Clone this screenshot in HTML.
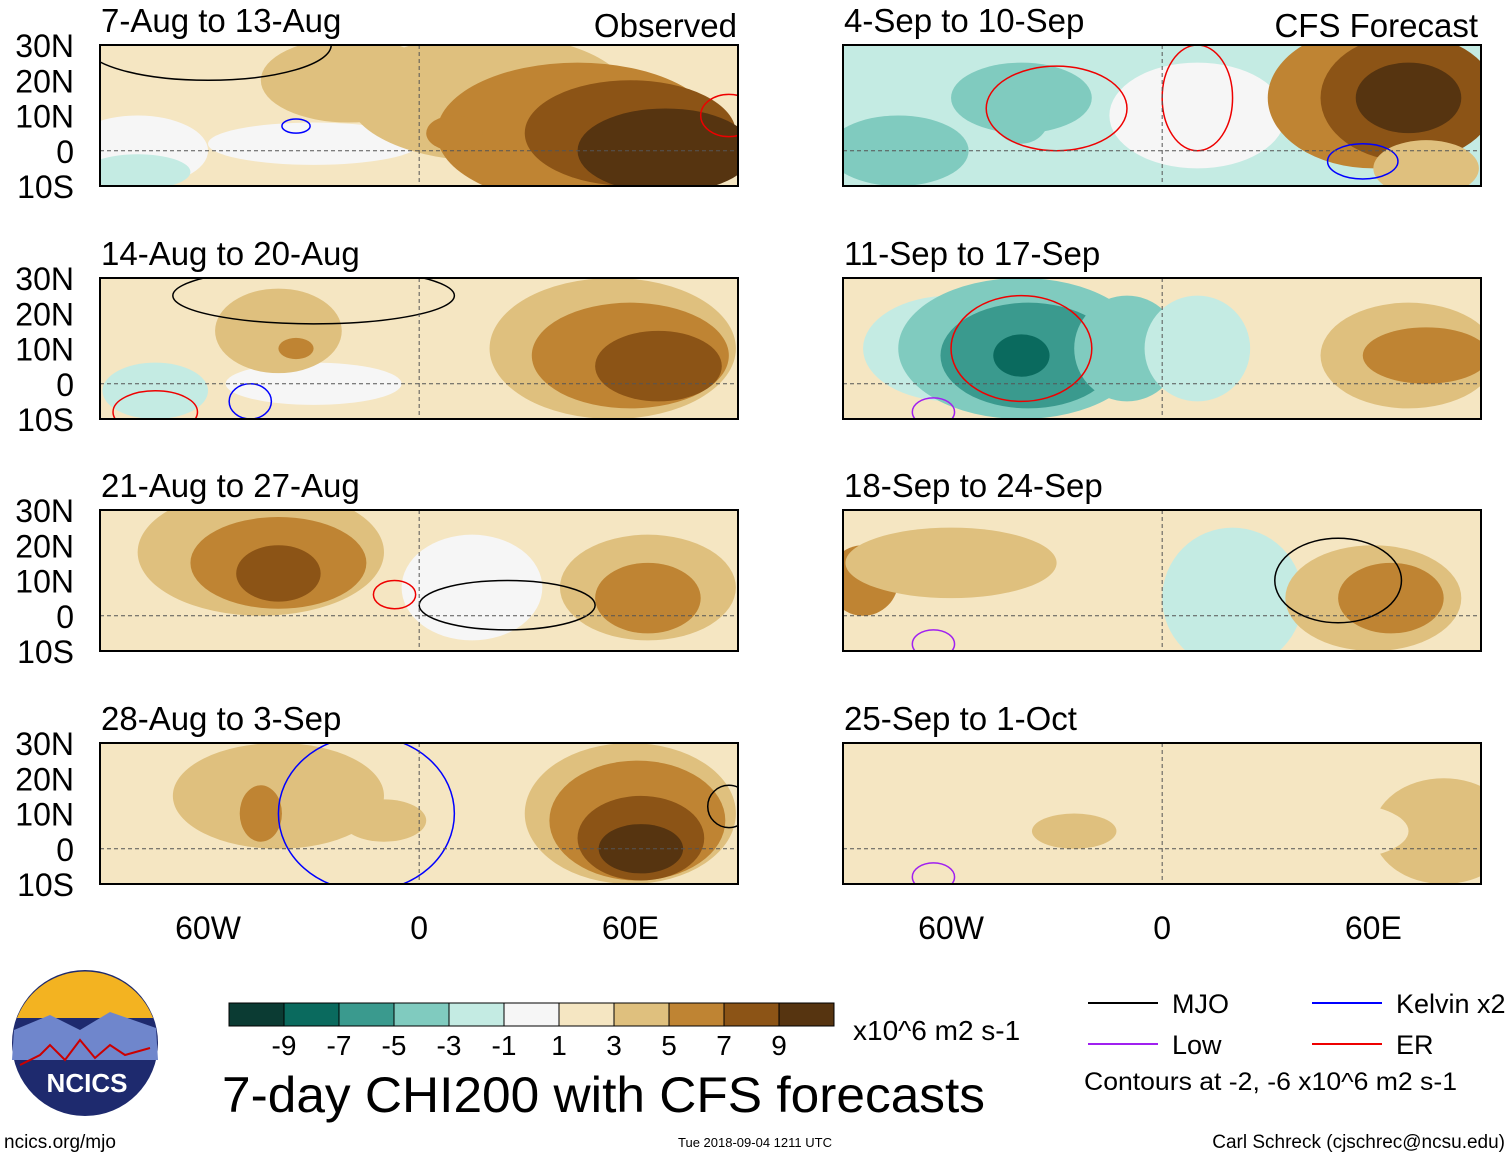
<!DOCTYPE html>
<html><head><meta charset="utf-8"><style>
body{margin:0;background:#fff;width:1510px;height:1158px;overflow:hidden;font-family:"Liberation Sans",sans-serif}
svg{position:absolute;left:0;top:0}
</style></head><body>
<svg id="fig" width="1510" height="1158" xmlns="http://www.w3.org/2000/svg" font-family="Liberation Sans, sans-serif"></svg>
<script>
const levelColors=["#0b3b33","#0a6a5e","#3a9a8e","#80cbbf","#c4ebe3","#f6f6f6","#f5e6c2","#dfc07e","#bf8433","#8c5416","#563410"];
const levelLabels=["-9","-7","-5","-3","-1","1","3","5","7","9"];
const panelTitles=["7-Aug to 13-Aug","14-Aug to 20-Aug","21-Aug to 27-Aug","28-Aug to 3-Sep","4-Sep to 10-Sep","11-Sep to 17-Sep","18-Sep to 24-Sep","25-Sep to 1-Oct"];
const panelBase=[6,6,6,6,4,6,6,6];
// blobs: [lon, lat, rlon, rlat, level]
const blobs0=[[-80,0,20,10,5],[-80,-6,15,5,4],[-30,2,30,6,5],[-20,20,25,12,7],[20,15,40,18,7],[45,5,40,20,8],[60,5,30,15,9],[70,0,25,12,10],[10,5,8,5,8]];
const blobs1=[[-75,-2,15,8,4],[-30,0,25,6,5],[-40,15,18,12,7],[-35,10,5,3,8],[55,10,35,20,7],[60,8,28,15,8],[68,5,18,10,9]];
const blobs2=[[-45,18,35,18,7],[-40,15,25,13,8],[-40,12,12,8,9],[15,8,20,15,5],[65,8,25,15,7],[65,5,15,10,8]];
const blobs3=[[-40,15,30,15,7],[-45,10,6,8,8],[-10,8,12,6,7],[60,10,30,20,7],[62,8,25,17,8],[63,3,18,12,9],[63,0,12,7,10]];
const blobs4=[[-75,0,20,10,3],[-40,15,20,10,3],[-40,10,8,8,3],[10,10,25,15,5],[60,15,30,20,8],[70,15,25,18,9],[70,15,15,10,10],[75,-5,15,8,7]];
const blobs5=[[-60,10,25,15,4],[-40,10,35,20,3],[-38,8,25,15,2],[-40,8,8,6,1],[-10,10,15,15,3],[10,10,15,15,4],[70,8,25,15,7],[75,8,18,8,8]];
const blobs6=[[-85,10,10,10,8],[-60,15,30,10,7],[20,5,20,20,4],[60,5,25,15,7],[65,5,15,10,8]];
const blobs7=[[-60,10,30,15,6],[-25,5,12,5,7],[80,5,20,15,7],[50,5,20,8,6]];
const panelBlobs=[blobs0,blobs1,blobs2,blobs3,blobs4,blobs5,blobs6,blobs7];
const contours0=[[-60,30,35,10,"#000"],[-35,7,4,2,"#00f"],[88,10,8,6,"#e00"]];
const contours1=[[-75,-8,12,6,"#e00"],[-48,-5,6,5,"#00f"],[-30,25,40,8,"#000"]];
const contours2=[[-7,6,6,4,"#e00"],[25,3,25,7,"#000"]];
const contours3=[[-15,10,25,22,"#00f"],[88,12,6,6,"#000"]];
const contours4=[[-30,12,20,12,"#e00"],[57,-3,10,5,"#00f"],[10,15,10,15,"#e00"]];
const contours5=[[-40,10,20,15,"#e00"],[-65,-8,6,4,"#a020f0"]];
const contours6=[[50,10,18,12,"#000"],[-65,-8,6,4,"#a020f0"]];
const contours7=[[-65,-8,6,4,"#a020f0"]];
const panelContours=[contours0,contours1,contours2,contours3,contours4,contours5,contours6,contours7];

const NS="http://www.w3.org/2000/svg";
const fig=document.getElementById('fig');
function el(tag,attrs,parent){const e=document.createElementNS(NS,tag);for(const k in attrs)e.setAttribute(k,attrs[k]);(parent||fig).appendChild(e);return e;}
function txt(s,attrs,parent){const e=el('text',attrs,parent);e.textContent=s;return e;}
const colX=[100,843],rowY=[45,278,510,743],PW=638,PH=141;
for(let p=0;p<8;p++){
  const x0=colX[p<4?0:1],y0=rowY[p%4];
  const lx=lon=>x0+(lon+90.7)/181.3*PW, ly=lat=>y0+(30-lat)/40*PH;
  const g=el('g',{});
  
  
  const cp=el('clipPath',{id:'c'+p},g);el('rect',{x:x0,y:y0,width:PW,height:PH},cp);
  const inner=el('g',{'clip-path':'url(#c'+p+')'},g);
  el('rect',{x:x0,y:y0,width:PW,height:PH,fill:levelColors[panelBase[p]]},inner);
  panelBlobs[p].forEach(b=>{
    const e=el('ellipse',{cx:lx(b[0]),cy:ly(b[1]),rx:b[2]/181.3*PW,ry:b[3]/40*PH,fill:levelColors[b[4]]},inner);
    
    
  });
  panelContours[p].forEach(c=>{
    const e=el('ellipse',{cx:lx(c[0]),cy:ly(c[1]),rx:c[2]/181.3*PW,ry:c[3]/40*PH,fill:'none',stroke:c[4],'stroke-width':1.5},inner);
    
    
  });
  el('line',{x1:x0,x2:x0+PW,y1:ly(0),y2:ly(0),stroke:'#555','stroke-dasharray':'4,3'},inner);
  el('line',{x1:lx(0),x2:lx(0),y1:y0,y2:y0+PH,stroke:'#555','stroke-dasharray':'4,3'},inner);
  el('rect',{x:x0,y:y0,width:PW,height:PH,fill:'none',stroke:'#000','stroke-width':2},g);
  const t=txt(panelTitles[p],{x:x0+1,y:y0-13,'font-size':33},g);
  
  
  if(p<4){["30N","20N","10N","0","10S"].forEach((s,i)=>txt(s,{x:74,y:ly(30-10*i)+12,'font-size':32,'text-anchor':'end'},g));}
  if(p%4==3){["60W","0","60E"].forEach((s,i)=>txt(s,{x:lx(-60+60*i),y:y0+PH+55,'font-size':32,'text-anchor':'middle'},g));}
}
txt("Observed",{x:737,y:37,'font-size':33,'text-anchor':'end'});
txt("CFS Forecast",{x:1478,y:37,'font-size':33,'text-anchor':'end'});
const cb=el('g',{});
levelColors.forEach((c,i)=>el('rect',{x:229+i*55,y:1003,width:55,height:23,fill:c,stroke:'#000','stroke-width':1},cb));
levelLabels.forEach((s,i)=>txt(s,{x:284+i*55,y:1055,'font-size':28,'text-anchor':'middle'},cb));
txt("x10^6 m2 s-1",{x:853,y:1040,'font-size':28},cb);
txt("7-day CHI200 with CFS forecasts",{x:222,y:1112,'font-size':50,textLength:763,lengthAdjust:'spacingAndGlyphs'});
const lg=el('g',{});
[["MJO","#000",1088,1003],["Kelvin x2","#00f",1312,1003],["Low","#a020f0",1088,1044],["ER","#e00",1312,1044]].forEach(l=>{
 el('line',{x1:l[2],x2:l[2]+70,y1:l[3],y2:l[3],stroke:l[1],'stroke-width':2},lg);
 txt(l[0],{x:l[2]+84,y:l[3]+10,'font-size':27},lg);});
txt("Contours at -2, -6 x10^6 m2 s-1",{x:1084,y:1090,'font-size':25,textLength:373,lengthAdjust:'spacingAndGlyphs'},lg);
const lo=el('g',{});
el('circle',{cx:85,cy:1043,r:73,fill:'#1e2a6e'},lo);
el('path',{d:'M17,1018 A73,73 0 0 1 153,1018 Z',fill:'#f3b321'},lo);
el('path',{d:'M14,1030 L50,1015 L80,1030 L110,1012 L156,1028 L158,1060 L12,1060Z',fill:'#6f86cc'},lo);
el('path',{d:'M20,1065 L40,1055 L50,1045 L65,1060 L80,1040 L95,1058 L110,1045 L125,1055 L150,1048',fill:'none',stroke:'#c00','stroke-width':2},lo);
txt("NCICS",{x:87,y:1092,'font-size':26,'font-weight':'bold',fill:'#fff','text-anchor':'middle'},lo);
txt("ncics.org/mjo",{x:4,y:1148,'font-size':19});
txt("Tue 2018-09-04 1211 UTC",{x:755,y:1147,'font-size':13,'text-anchor':'middle'});
txt("Carl Schreck (cjschrec@ncsu.edu)",{x:1505,y:1148,'font-size':19,'text-anchor':'end'});
</script>
</body></html>
